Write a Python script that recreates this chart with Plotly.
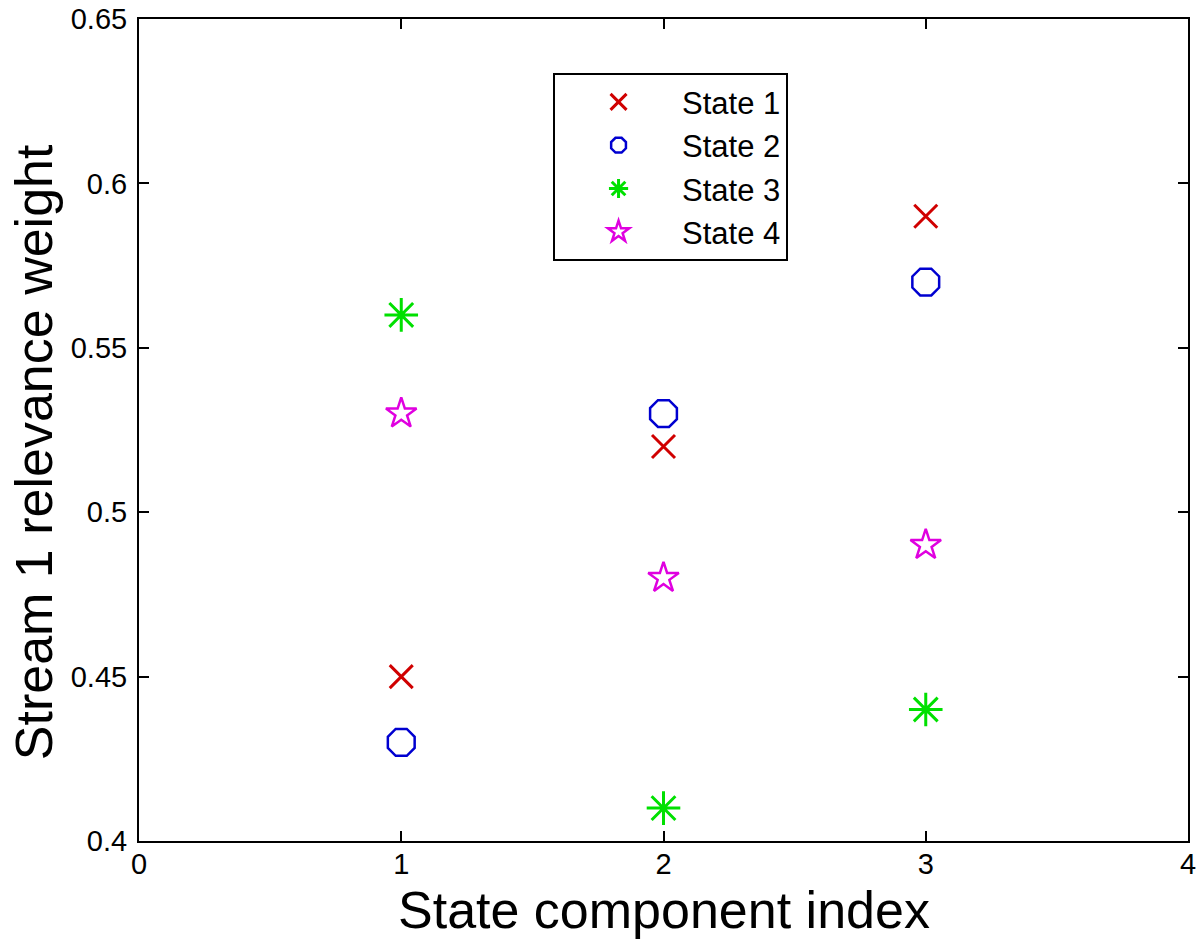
import plotly.graph_objects as go

x_index = [1, 2, 3]
state1 = [0.45, 0.52, 0.59]
state2 = [0.43, 0.53, 0.57]
state3 = [0.56, 0.41, 0.44]
state4 = [0.53, 0.48, 0.49]
x_ticks = [0, 1, 2, 3, 4]
y_ticks = [0.4, 0.45, 0.5, 0.55, 0.6, 0.65]
y_tick_labels = ["0.4", "0.45", "0.5", "0.55", "0.6", "0.65"]
x_title = "State component index"
y_title = "Stream 1 relevance weight"

fig = go.Figure()
series = [
    ("State 1", state1, "x-thin-open", "#d00000", 23, 3),
    ("State 2", state2, "octagon-open", "#0000d0", 29, 2.5),
    ("State 3", state3, "asterisk-open", "#00e000", 28, 3),
    ("State 4", state4, "star-open", "#e000e0", 23, 2.5),
]
for name, ys, sym, col, sz, lw in series:
    fig.add_trace(go.Scatter(
        x=x_index, y=ys, mode="markers", name=name,
        marker=dict(symbol=sym, size=sz, color=col,
                    line=dict(color=col, width=lw)),
    ))

axis_common = dict(
    showgrid=False, zeroline=False, showline=True, linecolor="black",
    linewidth=2, mirror="ticks", ticks="inside", ticklen=10, tickwidth=2,
    tickcolor="black", tickfont=dict(family="Arial", size=29, color="black"),
    ticklabeloverflow="allow", automargin=False,
)
fig.update_xaxes(range=[0, 4], tickvals=x_ticks, **axis_common,
                 ticklabelstandoff=-4)
fig.update_yaxes(range=[0.4, 0.65], tickvals=y_ticks, ticktext=y_tick_labels,
                 **axis_common, ticklabelstandoff=4)

title_font = dict(family="Arial", size=52, color="black")
fig.add_annotation(text=x_title, xref="paper", yref="paper", x=0.5,
                   y=-0.0839, xanchor="center", yanchor="middle",
                   showarrow=False, font=title_font)
fig.add_annotation(text=y_title, xref="paper", yref="paper", x=-0.1001,
                   y=0.473, xanchor="center", yanchor="middle",
                   textangle=-90, showarrow=False, font=title_font)

fig.update_layout(
    width=1200, height=951,
    margin=dict(l=139, r=12, t=19, b=110),
    plot_bgcolor="white", paper_bgcolor="white",
    legend=dict(x=0.3947, y=0.934, xanchor="left", yanchor="top",
                bordercolor="black", borderwidth=2, bgcolor="white",
                font=dict(family="Arial", size=31, color="black"),
                itemwidth=117),
)
fig.write_html(
    "out.html",
    config={"displayModeBar": False},
    post_script="document.body.style.margin='0';document.body.style.overflow='hidden';",
)
